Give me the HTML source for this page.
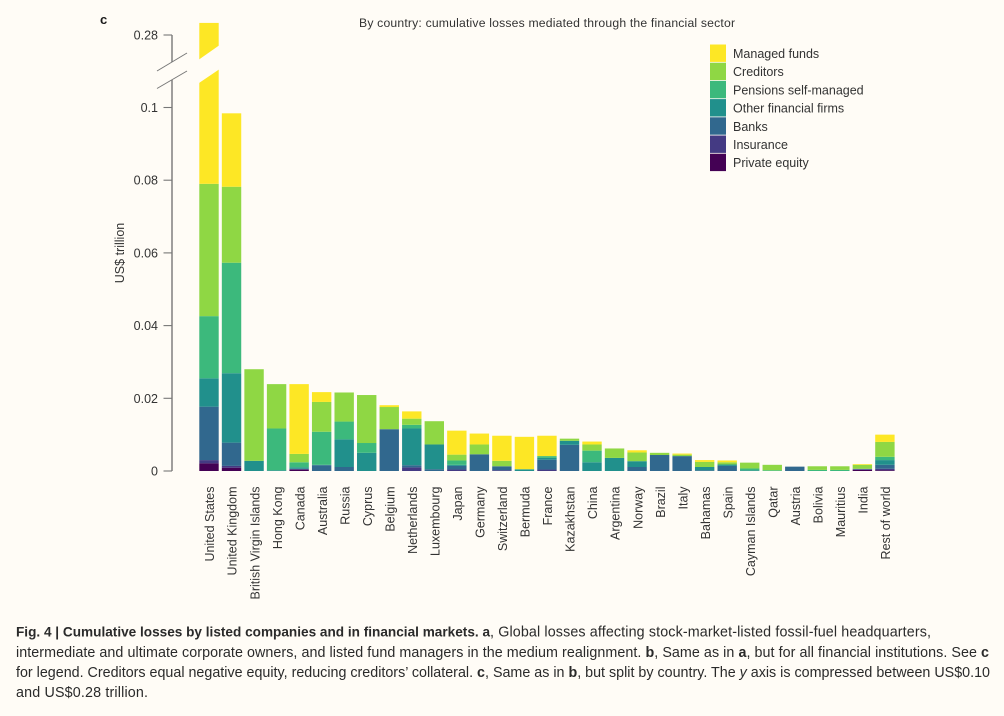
<!DOCTYPE html>
<html lang="en">
<head>
<meta charset="utf-8">
<title>Cumulative losses by country</title>
<style>
  html, body { margin: 0; padding: 0; background: #fffcf6; }
  svg { display: block; font-family: "Liberation Sans", sans-serif; }
</style>
</head>
<body>
<svg id="chart" xmlns="http://www.w3.org/2000/svg" width="1004" height="716" viewBox="0 0 1004 716">
  <rect x="0" y="0" width="1004" height="716" fill="#fffcf6"/>
  <text x="100" y="24" font-size="13" font-weight="bold" fill="#1a1a1a">c</text>
  <text x="359" y="27" font-size="12.2" fill="#333" textLength="376" lengthAdjust="spacing">By country: cumulative losses mediated through the financial sector</text>
  <text transform="translate(124,253) rotate(-90)" text-anchor="middle" font-size="12.5" fill="#333">US$ trillion</text>
  <g id="bars"></g>
  <g id="axis"></g>
  <g id="xlabels"></g>
  <g id="legend"></g>
  <g font-size="14.3" fill="#2a2a2a">
    <text x="16" y="636.5" font-size="13.6" font-weight="bold" textLength="474" lengthAdjust="spacing">Fig. 4 | Cumulative losses by listed companies and in financial markets. a</text>
    <text x="490" y="636.5" textLength="441" lengthAdjust="spacing">, Global losses affecting stock-market-listed fossil-fuel headquarters,</text>
    <text x="16" y="656.8" textLength="973" lengthAdjust="spacing">intermediate and ultimate corporate owners, and listed fund managers in the medium realignment. <tspan font-weight="bold">b</tspan>, Same as in <tspan font-weight="bold">a</tspan>, but for all financial institutions. See <tspan font-weight="bold">c</tspan></text>
    <text x="16" y="677.2" textLength="974" lengthAdjust="spacing">for legend. Creditors equal negative equity, reducing creditors’ collateral. <tspan font-weight="bold">c</tspan>, Same as in <tspan font-weight="bold">b</tspan>, but split by country. The <tspan font-style="italic">y</tspan> axis is compressed between US$0.10</text>
    <text x="16" y="697" textLength="132" lengthAdjust="spacing">and US$0.28 trillion.</text>
  </g>
</svg>
<script>
const countries = ["United States","United Kingdom","British Virgin Islands","Hong Kong","Canada","Australia","Russia","Cyprus","Belgium","Netherlands","Luxembourg","Japan","Germany","Switzerland","Bermuda","France","Kazakhstan","China","Argentina","Norway","Brazil","Italy","Bahamas","Spain","Cayman Islands","Qatar","Austria","Bolivia","Mauritius","India","Rest of world"];
const privateEquity = [.0021,.0009,0,0,.0004,0,0,0,0,0,0,0,0,0,0,0,0,0,0,0,0,0,0,0,0,0,0,0,0,.0003,.0002];
const insurance = [.0009,.0005,0,0,.0001,0,0,0,0,.001,0,.0004,0,.0002,0,.0004,0,0,0,0,0,0,0,0,0,0,0,0,0,.0002,.0004];
const banks = [.0147,.0064,0,0,.0001,.0016,.0011,0,.0115,.0006,.0005,.001,.0046,.0011,0,.0027,.0072,0,0,.0011,.0044,.0041,.0002,.0014,0,0,.0012,0,0,.0001,.0011];
const otherFinancial = [.0078,.0191,.0028,.0002,.0004,.0001,.0076,.005,0,.0101,.0068,.0003,0,0,.0004,.0005,.0011,.0024,.0036,.0016,0,0,.0009,.0004,.0002,0,0,0,0,0,.0013];
const pensions = [.0171,.0304,0,.0115,.0014,.0091,.0049,.0027,0,.001,0,.0012,0,0,.0001,.0005,0,.0032,0,0,0,0,0,0,.0005,.0002,0,.0003,.0003,0,.0009];
const creditors = [.0364,.0209,.0252,.0122,.0023,.0082,.008,.0132,.0061,.0017,.0064,.0016,.0027,.0015,0,0,.0006,.0017,.0026,.0024,.0006,.0004,.0014,.0006,.0016,.0015,0,.001,.001,.0011,.0041];
const managedFunds = [.231,.0202,0,0,.0192,.0027,0,0,.0005,.002,0,.0066,.003,.0069,.0089,.0056,0,.0008,0,.0006,0,.0003,.0005,.0005,0,0,0,0,0,.0002,.002];
const seriesNames = ["Private equity","Insurance","Banks","Other financial firms","Pensions self-managed","Creditors","Managed funds"];
const seriesColors = ["#440154","#443a83","#31688e","#21908c","#3cb97c","#8fd744","#fde725"];
const seriesValues = [privateEquity, insurance, banks, otherFinancial, pensions, creditors, managedFunds];
const yTicks = [0, 0.02, 0.04, 0.06, 0.08, 0.1, 0.28];
const yTickLabels = ["0","0.02","0.04","0.06","0.08","0.1","0.28"];

const NS = "http://www.w3.org/2000/svg";
const BG = "#fffcf6";
function y(v) {
  if (v <= 0.1) return 471 - v * 3635;
  return 107.5 - (v - 0.1) * (72.5 / 0.18);
}
function x(i) { return 209 + i * 22.53; }
const barW = 19.4;
function make(tag, attrs, parent) {
  const el = document.createElementNS(NS, tag);
  for (const k in attrs) el.setAttribute(k, attrs[k]);
  parent.appendChild(el);
  return el;
}

const barsG = document.getElementById("bars");
countries.forEach(function (name, i) {
  let cum = 0;
  seriesValues.forEach(function (vals, s) {
    const v = vals[i];
    if (v <= 0) return;
    const y0 = y(cum), y1 = y(cum + v);
    cum += v;
    const r = make("rect", { x: x(i) - barW / 2, y: y1, width: barW, height: y0 - y1, fill: seriesColors[s] }, barsG);
    
    
  });
});

const axisG = document.getElementById("axis");
const axisX = 172;
const axisColor = "#777";
const axisUpper = make("line", { x1: axisX, x2: axisX, y1: y(0.28), y2: 62, stroke: axisColor, "stroke-width": 1.4 }, axisG);


const axisLower = make("line", { x1: axisX, x2: axisX, y1: 80, y2: y(0), stroke: axisColor, "stroke-width": 1.4 }, axisG);



yTicks.forEach(function (t, i) {
  const tick = make("line", { x1: axisX - 8.5, x2: axisX, y1: y(t), y2: y(t), stroke: axisColor, "stroke-width": 1.1 }, axisG);
  
  
  const lab = make("text", { x: 158, y: y(t) + 4.5, "text-anchor": "end", "font-size": 12.5, fill: "#333" }, axisG);
  lab.textContent = yTickLabels[i];
  
  
});

const breakUpper = make("line", { x1: 157, y1: 71, x2: 187, y2: 53, stroke: axisColor, "stroke-width": 1 }, axisG);


const breakLower = make("line", { x1: 157, y1: 88.5, x2: 187, y2: 71, stroke: axisColor, "stroke-width": 1 }, axisG);



const gapL = x(0) - barW / 2 - 1, gapR = x(0) + barW / 2 + 1;
const gap = make("polygon", { points: gapL + ",60 " + gapR + ",45 " + gapR + ",69 " + gapL + ",83.5", fill: BG }, barsG);



const xG = document.getElementById("xlabels");
countries.forEach(function (name, i) {
  const t = make("text", { transform: "translate(" + (x(i) + 5.2) + ",486.5) rotate(-90)", "text-anchor": "end", "font-size": 12.5, fill: "#333" }, xG);
  t.textContent = name;
  
  
});

const legendG = document.getElementById("legend");
const rows = seriesNames.length;
for (let r = 0; r < rows; r++) {
  const s = rows - 1 - r;
  const top = 44.5 + r * 18.2;
  const sw = make("rect", { x: 710, y: top, width: 16, height: 17.4, fill: seriesColors[s] }, legendG);
  
  
  const t = make("text", { x: 733, y: top + 13.5, "font-size": 12.5, fill: "#333" }, legendG);
  t.textContent = seriesNames[s];
  
  
}
</script>
</body>
</html>
